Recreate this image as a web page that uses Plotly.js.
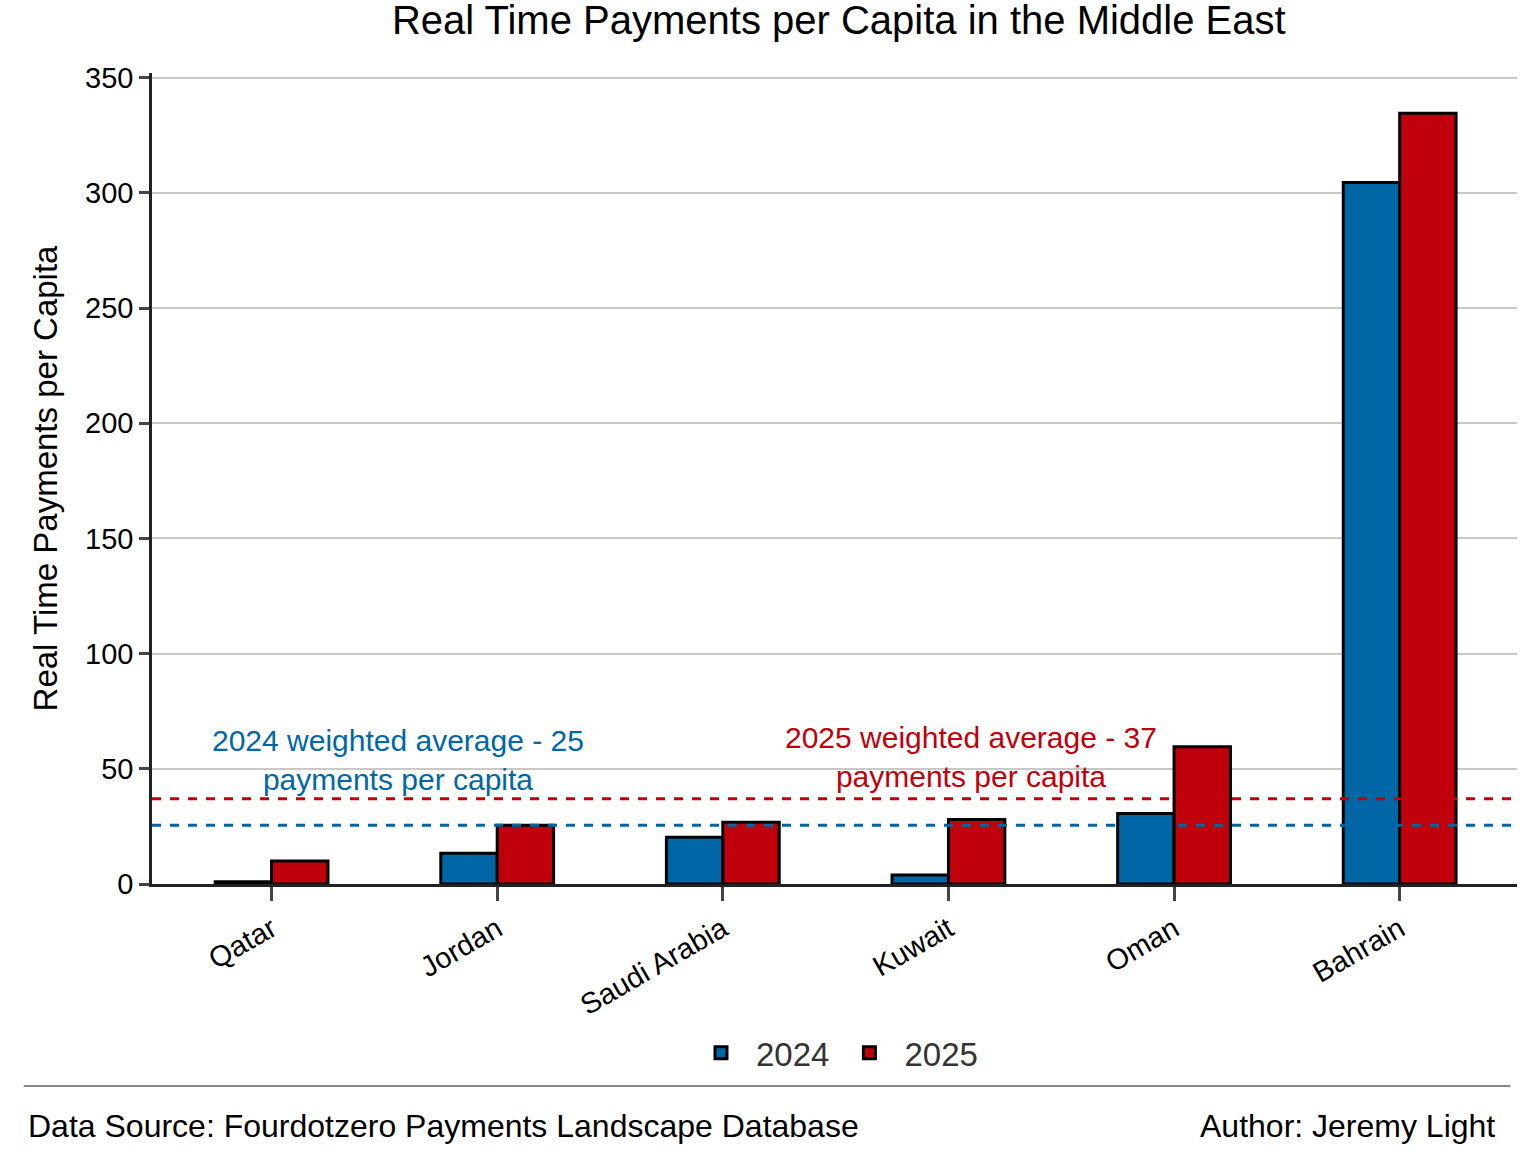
<!DOCTYPE html><html><head><script src="https://cdn.plot.ly/plotly-3.0.1.min.js"></script></head><body style="margin:0">
<div id="c" style="width:1539px;height:1165px"></div>
<script>
const countries=["Qatar","Jordan","Saudi Arabia","Kuwait","Oman","Bahrain"];
const v2024=[1,13.4,20.3,3.9,30.6,304.5];
const v2025=[10,25.5,26.8,28,59.6,334.5];
const avg2024=25.5, avg2025=37;
const idx=countries.map((_,i)=>i);
const F="Liberation Sans, Arial, sans-serif";
const data=[
{type:"bar",name:"2024",x:idx,y:v2024,width:0.25,offset:-0.25,marker:{color:"#0066a6",line:{color:"#000",width:3}}},
{type:"bar",name:"2025",x:idx,y:v2025,width:0.25,offset:0,marker:{color:"#c0000b",line:{color:"#000",width:3}}}
];
const layout={width:1539,height:1165,margin:{l:152,r:22,t:73,b:281},barmode:"overlay",
paper_bgcolor:"#fff",plot_bgcolor:"#fff",font:{family:F,size:28,color:"#000"},showlegend:true,
title:{text:"Real Time Payments per Capita in the Middle East",font:{size:40},x:0.545,xanchor:"center",y:0.995,yanchor:"top"},
xaxis:{range:[-0.53,5.52],tickvals:idx,ticktext:countries,tickangle:-30,ticks:"outside",ticklen:14,tickwidth:3,showline:true,linewidth:2.5,linecolor:"#222",showgrid:false,zeroline:false,tickfont:{size:29}},
yaxis:{range:[0,352],dtick:50,ticks:"outside",ticklen:10,tickwidth:3,showline:true,linewidth:2.5,linecolor:"#222",gridcolor:"#c8c8c8",gridwidth:2,zeroline:false,tickfont:{size:29},
 title:{text:"Real Time Payments per Capita",font:{size:33},standoff:18}},
legend:{orientation:"h",x:0.5,xanchor:"center",y:-0.208,yanchor:"middle",bgcolor:"rgba(0,0,0,0)",font:{size:33,color:"#333"},itemwidth:60,traceorder:"normal"},
shapes:[
{type:"line",xref:"paper",x0:0,x1:1,yref:"y",y0:avg2025,y1:avg2025,line:{color:"#c0000b",width:3,dash:"dash"}},
{type:"line",xref:"paper",x0:0,x1:1,yref:"y",y0:avg2024,y1:avg2024,line:{color:"#0066a6",width:3,dash:"dash"}},
{type:"line",xref:"paper",yref:"paper",x0:-0.094,x1:0.995,y0:-0.249,y1:-0.249,line:{color:"#888",width:2}}
],
annotations:[
{x:0.56,y:54,xref:"x",yref:"y",text:"2024 weighted average - 25<br>payments per capita",showarrow:false,font:{size:30,color:"#0066a6"}},
{x:3.1,y:55,xref:"x",yref:"y",text:"2025 weighted average - 37<br>payments per capita",showarrow:false,font:{size:30,color:"#c0000b"}},
{xref:"paper",yref:"paper",x:-0.092,y:-0.298,xanchor:"left",yanchor:"middle",text:"Data Source: Fourdotzero Payments Landscape Database",showarrow:false,font:{size:32}},
{xref:"paper",yref:"paper",x:0.985,y:-0.298,xanchor:"right",yanchor:"middle",text:"Author: Jeremy Light",showarrow:false,font:{size:32}}
]};
Plotly.newPlot("c",data,layout,{displayModeBar:false});
</script></body></html>
